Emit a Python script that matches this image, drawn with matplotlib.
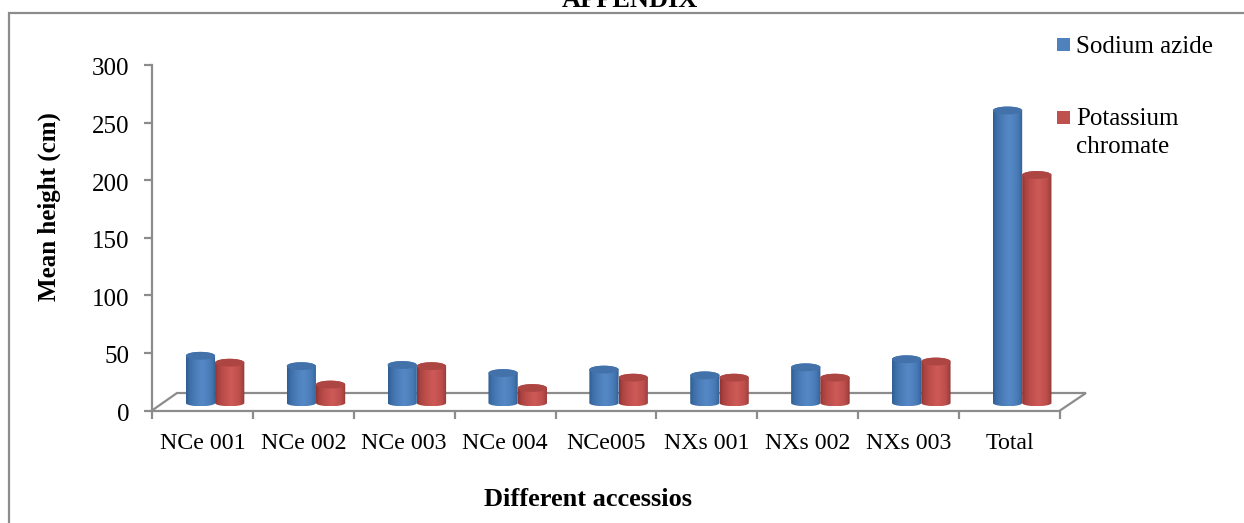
import numpy as np
import matplotlib
matplotlib.use("Agg")
import matplotlib.pyplot as plt
from matplotlib.path import Path
from matplotlib.patches import PathPatch, Rectangle
from matplotlib.colors import LinearSegmentedColormap
from matplotlib.transforms import ScaledTranslation

categories = ["NCe 001", "NCe 002", "NCe 003", "NCe 004", "NCe005",
              "NXs 001", "NXs 002", "NXs 003", "Total"]
sodium_azide = [41, 32, 33, 26, 29, 24, 31, 38, 254]
potassium_chromate = [35, 16, 32, 13, 22, 22, 22, 36, 198]
y_ticks = [0, 50, 100, 150, 200, 250, 300]

W, H = 1244, 523
GREY = "#8c8c8c"
FONT = ["Liberation Serif", "DejaVu Serif"]
plt.rcParams["font.family"] = FONT

fig = plt.figure(figsize=(W / 100, H / 100), dpi=100)

# frame and full-figure pixel overlay
ov = fig.add_axes([0, 0, 1, 1], zorder=0)
ov.set_xlim(0, W); ov.set_ylim(H, 0); ov.axis("off")
ov.plot([9, 9, W], [H, 13, 13], color=GREY, lw=1.6, solid_joinstyle="miter")
ov.text(630, 7, "APPENDIX", ha="center", va="baseline", fontsize=19,
        fontweight="bold", color="black", clip_on=False)

# main axes
L, R, T, B = 152, 1060, 65, 410.5
ax = fig.add_axes([L / W, 1 - B / H, (R - L) / W, (B - T) / H], zorder=2)
ax.patch.set_alpha(0)
ax.set_xlim(0, len(categories))
ax.set_ylim(0, 300)
for s in ("top", "right"):
    ax.spines[s].set_visible(False)
for s in ("left", "bottom"):
    ax.spines[s].set_color(GREY)
    ax.spines[s].set_linewidth(1.6)
ax.set_yticks(y_ticks)
ax.set_xticks(np.arange(len(categories) + 1))
ax.set_xticklabels([])
ax.tick_params(axis="both", color=GREY, width=1.6, length=5.5, labelcolor="black")
ax.tick_params(axis="y", labelsize=18, pad=11)
shift = ScaledTranslation(0, -2 / 100, fig.dpi_scale_trans)
for lab in ax.get_yticklabels():
    lab.set_transform(lab.get_transform() + shift)
PX = 300 / (B - T)
for i, c in enumerate(categories):
    ax.text(i + 0.5, (B - 449) * PX, c, ha="center", va="baseline",
            fontsize=17.2, color="black")

# 3D floor, in pixel overlay
ov.plot([L, L + 25, 1086, R], [B, 393, 393, B], color=GREY, lw=1.6,
        solid_joinstyle="miter")

stops = [0.0, 0.12, 0.3, 0.55, 0.8, 0.92, 1.0]
cm_blue = LinearSegmentedColormap.from_list("b", list(zip(stops, [
    "#2f5c90", "#3d6ea8", "#4a7cb8", "#5589c6", "#4a7cb8", "#3d6ea8", "#2f5a8c"])))
cm_red = LinearSegmentedColormap.from_list("r", list(zip(stops, [
    "#8f3331", "#ab4441", "#bf4f4c", "#cd5a57", "#bf4f4c", "#a84441", "#8a3331"])))
grad = np.linspace(0, 1, 256).reshape(1, -1)

BASE = 6.5     # depth offset of the bar base above the axis floor
RY_TOP = 3.4   # top ellipse half-height
RY_BOT = 2.8   # bottom arc half-height
W_BAR = 0.29
t = np.linspace(0, np.pi, 40)


def cylinder(xc, val, cmap, top_col):
    x0, x1 = xc - W_BAR / 2, xc + W_BAR / 2
    top = BASE + val
    ex = xc + W_BAR / 2 * np.cos(t)
    verts = np.r_[np.c_[ex, top + RY_TOP * np.sin(t)],
                  np.c_[ex[::-1], BASE - RY_BOT * np.sin(t[::-1])]]
    verts = np.r_[verts, verts[:1]]
    clip = PathPatch(Path(verts), transform=ax.transData, fc="none", ec="none")
    ax.add_patch(clip)
    im = ax.imshow(grad, extent=[x0, x1, BASE - RY_BOT, top + RY_TOP], aspect="auto",
                   cmap=cmap, zorder=3, interpolation="bilinear")
    im.set_clip_path(clip)
    et = np.linspace(0, 2 * np.pi, 80)
    ax.fill(xc + W_BAR / 2 * np.cos(et), top + RY_TOP * np.sin(et), color=top_col,
            zorder=3, lw=0)


for i, (a, b) in enumerate(zip(sodium_azide, potassium_chromate)):
    cylinder(i + 0.625 - W_BAR / 2, a, cm_blue, "#4372ab")
    cylinder(i + 0.625 + W_BAR / 2, b, cm_red, "#ad4643")
ax.set_xlim(0, len(categories))
ax.set_ylim(0, 300)

ov.text(49, 207, "Mean height (cm)", rotation=90, ha="center", va="center",
        fontsize=18, fontweight="bold")
ov.text(588.5, 506, "Different accessios", ha="center", va="baseline",
        fontsize=19, fontweight="bold")

# legend
ov.add_patch(Rectangle((1057, 38), 13, 13, fc="#4f81bd", ec="none"))
ov.add_patch(Rectangle((1057, 111), 13, 13, fc="#c0504d", ec="none"))
ov.text(1076, 53, "Sodium azide", va="baseline", fontsize=18)
ov.text(1076, 125, "Potassium", va="baseline", fontsize=18)
ov.text(1076, 153, "chromate", va="baseline", fontsize=18)

fig.savefig("out.png", dpi=100, facecolor="white")
